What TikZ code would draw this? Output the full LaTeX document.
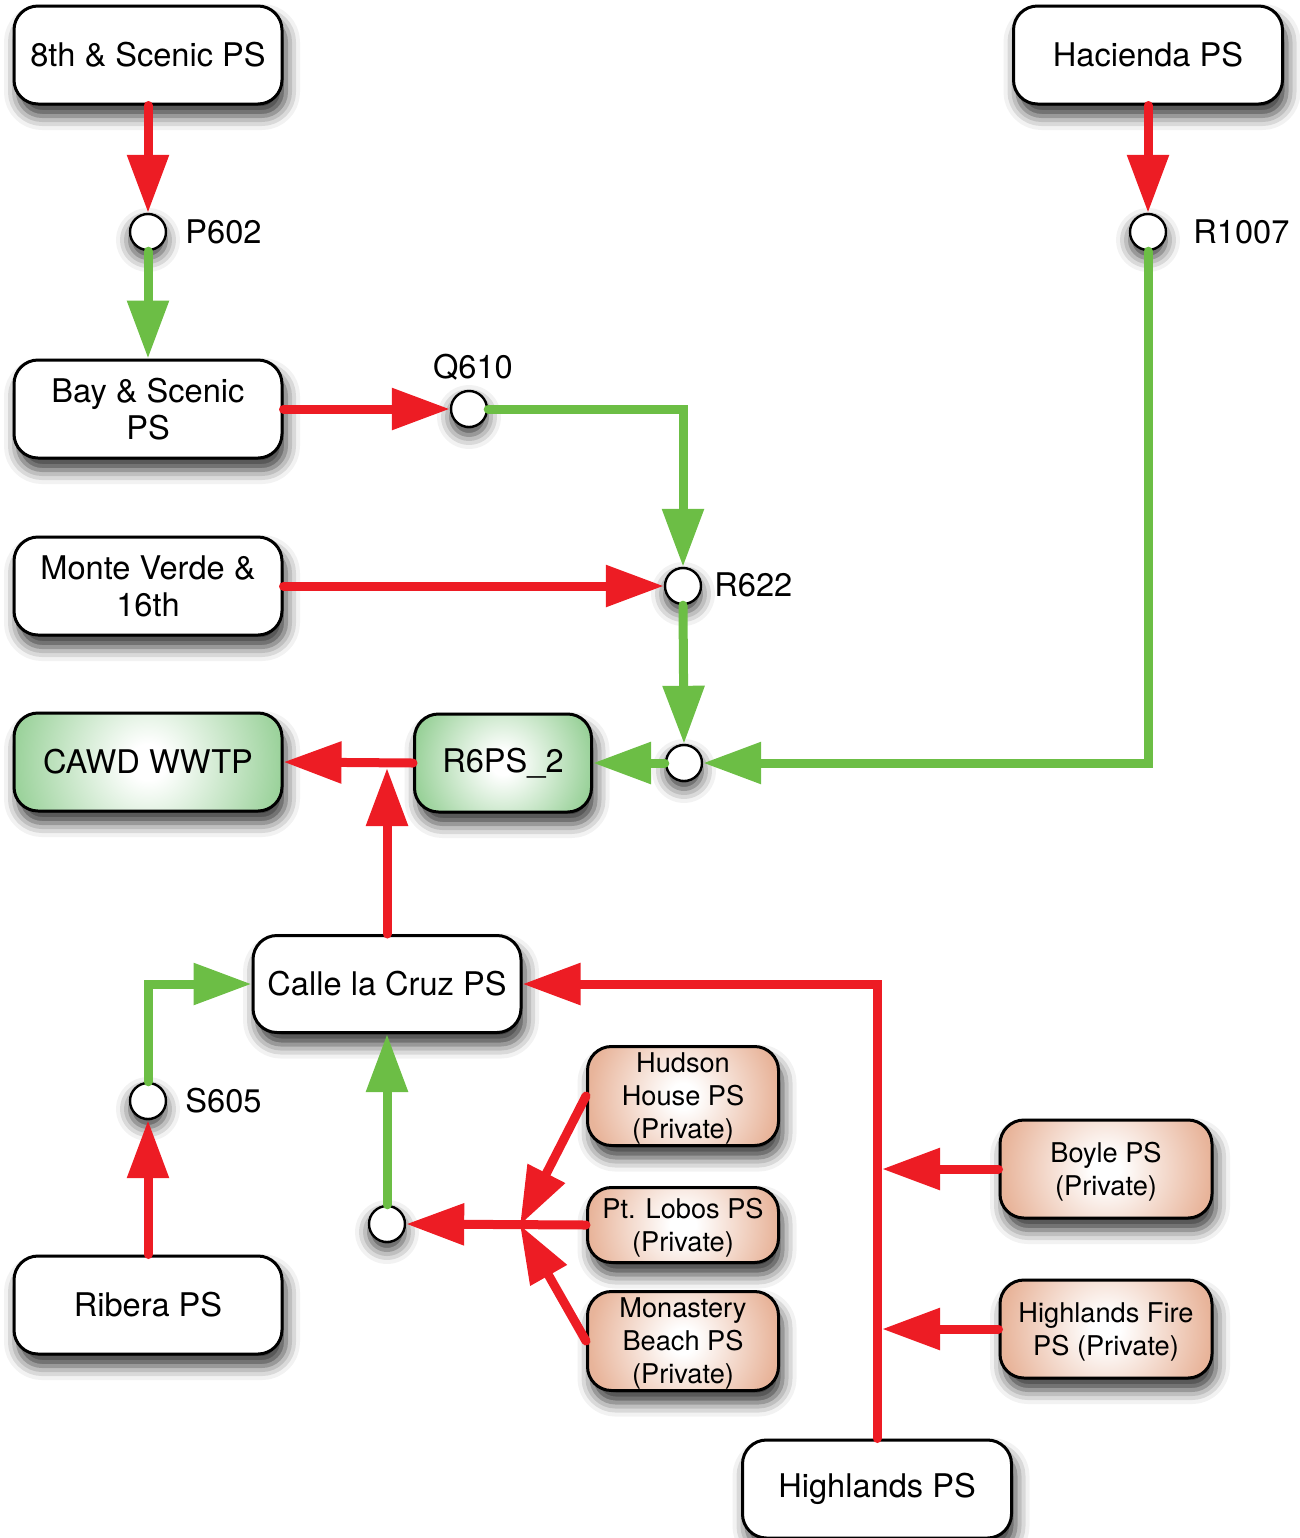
\documentclass[tikz,border=0pt]{standalone}
\usepackage{fontspec}
\setmainfont{TeX Gyre Heros}
\usetikzlibrary{arrows.meta,shadows.blur,calc}
\definecolor{ered}{RGB}{237,28,36}
\definecolor{egreen}{RGB}{108,190,69}
\definecolor{gmid}{RGB}{146,206,146}
\definecolor{gout}{RGB}{162,190,162}
\definecolor{pmid}{RGB}{232,180,154}
\definecolor{pout}{RGB}{198,180,172}
\pgfdeclareradialshading{greensh}{\pgfpoint{0bp}{0bp}}{color(0bp)=(white); color(3bp)=(white); color(24bp)=(gmid); color(40bp)=(gout); color(50bp)=(gout)}
\pgfdeclareradialshading{privsh}{\pgfpoint{0bp}{0bp}}{color(0bp)=(white); color(3bp)=(white); color(22bp)=(pmid); color(38bp)=(pout); color(50bp)=(pout)}
\newcommand\privtxt[1]{\raisebox{-1.5pt}[\height][\depth]{\begin{tabular}{@{}c@{}}#1\end{tabular}}}
\tikzset{
  x=0.5pt, y=0.5pt,
  box/.style={draw=black, line width=1.5pt, rounded corners=12pt, fill=white,
    minimum width=134pt, minimum height=49pt, align=center, inner sep=2pt,
    font=\fontsize{16.3}{18.5}\selectfont,
    blur shadow={shadow xshift=2pt, shadow yshift=-6pt, shadow blur radius=7pt, shadow opacity=80}},
  circshade/.style={path picture={
    \shade[shading=#1] let \p1=($(path picture bounding box.east)-(path picture bounding box.west)$)
      in (path picture bounding box.center) circle ({0.56*\x1});}},
  greenbox/.style={box, circshade=greensh},
  privbox/.style={box, circshade=privsh, minimum width=95.5pt, minimum height=49.5pt,
    inner ysep=0pt, font=\fontsize{13.6}{16.5}\selectfont},
  pt/.style={circle, draw=black, line width=1.2pt, fill=white, minimum size=18pt, inner sep=0pt,
    blur shadow={shadow xshift=0pt, shadow yshift=-4pt, shadow blur radius=7pt, shadow opacity=80}},
  lbl/.style={inner sep=0pt, font=\fontsize{16.3}{18.5}\selectfont},
  conn/.style={line width=4.5pt, line cap=round, -{Triangle[length=29pt,width=20pt]}},
  redarrow/.style={conn, draw=ered},
  greenarrow/.style={conn, draw=egreen},
}
\begin{document}
\begin{tikzpicture}
\useasboundingbox (0,0) rectangle (1300,-1538);
% boxes
\node[box] (s8) at (148,-55) {8th \& Scenic PS};
\node[box, minimum width=134.5pt] (hac) at (1148,-55) {Hacienda PS};
\node[box] (bay) at (148,-409) {Bay \& Scenic\\PS};
\node[box] (mv) at (148,-586) {Monte Verde \&\\16th};
\node[greenbox] (cawd) at (148,-762) {CAWD WWTP};
\node[greenbox, minimum width=88.5pt] (r6) at (503,-763) {R6PS\_2};
\node[box, minimum height=48.5pt] (calle) at (387,-984) {Calle la Cruz PS};
\node[box] (rib) at (148,-1305) {Ribera PS};
\node[box, minimum width=134.5pt] (hl) at (877,-1489) {Highlands PS};
\node[privbox] (hud) at (683,-1096) {\privtxt{Hudson\\House PS\\(Private)}};
\node[privbox, minimum height=37.5pt] (lob) at (683,-1225) {\privtxt{Pt. Lobos PS\\(Private)}};
\node[privbox] (mon) at (683,-1341) {\privtxt{Monastery\\Beach PS\\(Private)}};
\node[privbox, minimum width=106pt, minimum height=49pt] (boy) at (1106,-1169) {\privtxt{Boyle PS\\(Private)}};
\node[privbox, minimum width=106pt, minimum height=49pt] (hf) at (1106,-1329) {\privtxt{Highlands Fire\\PS (Private)}};
% junction points
\node[pt] (p602) at (148,-232) {};
\node[pt] (r1007) at (1148,-232) {};
\node[pt] (q610) at (469,-409) {};
\node[pt] (r622) at (683,-586) {};
\node[pt] (jn) at (684,-763) {};
\node[pt] (s605) at (148,-1101) {};
\node[pt] (c2) at (387,-1224) {};
% labels
\node[lbl, anchor=west] (lp602) at (185,-232) {P602};
\node[lbl, anchor=west] (lr1007) at (1193,-232) {R1007};
\node[lbl] (lq610) at (473,-367) {Q610};
\node[lbl, anchor=west] (lr622) at (714,-585) {R622};
\node[lbl, anchor=west] (ls605) at (185,-1101) {S605};
% helper coordinates
\coordinate (m1) at (387,-768);
\coordinate (m2) at (520,-1225);
\coordinate (m3) at (882,-1169);
\coordinate (m4) at (882,-1329);
% connectors
\draw[redarrow] (s8.south) -- (p602.north);
\draw[greenarrow] (p602.south) -- (bay.north);
\draw[redarrow] (hac.south) -- (r1007.north);
\draw[redarrow] (bay.east) -- (q610.west);
\draw[greenarrow] (q610.east) -| (r622.north);
\draw[redarrow] (mv.east) -- (r622.west);
\draw[greenarrow] (r622.south) -- (jn.north);
\draw[greenarrow] (r1007.south) |- (jn.east);
\draw[greenarrow] (jn.west) -- (r6.east);
\draw[redarrow] (r6.west) -- (cawd.east);
\draw[redarrow] (calle.north) -- (m1);
\draw[greenarrow] (s605.north) |- (calle.west);
\draw[redarrow] (rib.north) -- (s605.south);
\draw[greenarrow] (c2.north) -- (calle.south);
\draw[redarrow] (hud.west) -- (m2);
\draw[redarrow] (lob.west) -- (c2.east);
\draw[redarrow] (mon.west) -- (m2);
\draw[redarrow] (hl.north) |- (calle.east);
\draw[redarrow] (boy.west) -- (m3);
\draw[redarrow] (hf.west) -- (m4);
\end{tikzpicture}
\end{document}
